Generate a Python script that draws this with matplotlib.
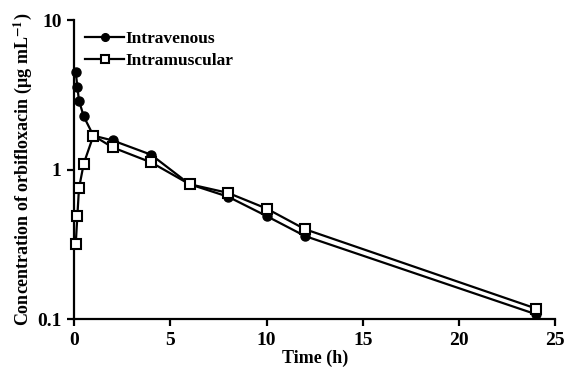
import numpy as np
import matplotlib
matplotlib.use("Agg")
import matplotlib.pyplot as plt
from matplotlib.ticker import FixedLocator, NullLocator

# sampling times (h)
t_iv = [0.083, 0.167, 0.25, 0.5, 1, 2, 4, 6, 8, 10, 12, 24]
t_im = [0.083, 0.167, 0.25, 0.5, 1, 2, 4, 6, 8, 10, 12, 24]

# concentration (ug/mL)
c_iv = [4.48, 3.60, 2.90, 2.27, 1.69, 1.57, 1.26, 0.80, 0.66, 0.49, 0.36, 0.108]
c_im = [0.32, 0.49, 0.75, 1.10, 1.69, 1.41, 1.12, 0.80, 0.70, 0.55, 0.40, 0.118]

plt.rcParams['font.family'] = ['Liberation Serif', 'DejaVu Serif']
plt.rcParams['font.weight'] = 'bold'
plt.rcParams['mathtext.fontset'] = 'stix'

fig = plt.figure(figsize=(5.66, 3.81), dpi=100)
ax = fig.add_axes([0.131, 0.162, 0.850, 0.785])

ax.plot(t_iv, c_iv, color='black', lw=1.6, marker='o', ms=6.5,
        mfc='black', mec='black', label='Intravenous', clip_on=False, zorder=3)
ax.plot(t_im, c_im, color='black', lw=1.6, marker='s', ms=7,
        mfc='white', mec='black', mew=1.5, label='Intramuscular', clip_on=False, zorder=4)

ax.set_yscale('log')
ax.set_ylim(0.1, 10)
ax.set_xlim(0, 25)
ax.yaxis.set_major_locator(FixedLocator([0.1, 1, 10]))
ax.yaxis.set_minor_locator(NullLocator())
ax.set_yticklabels(['0.1', '1', '10'])
ax.set_xticks([0, 5, 10, 15, 20, 25])

for s in ['top', 'right']:
    ax.spines[s].set_visible(False)
for s in ['left', 'bottom']:
    ax.spines[s].set_linewidth(1.6)
ax.tick_params(width=1.6, length=5, labelsize=14, pad=4)

ax.set_xlabel('Time (h)', fontsize=13, fontweight='bold', labelpad=1)
ax.set_ylabel(r'Concentration of orbifloxacin (μg mL$^{\mathbf{-1}}$)', fontsize=13,
              fontweight='bold', labelpad=2)

ax.legend(loc='upper left', bbox_to_anchor=(0.0, 1.0), frameon=False,
          fontsize=12.5, handlelength=2.3, handletextpad=0.05, borderaxespad=0.2,
          labelspacing=0.35, markerscale=0.85)

fig.savefig('out.png', dpi=100)
